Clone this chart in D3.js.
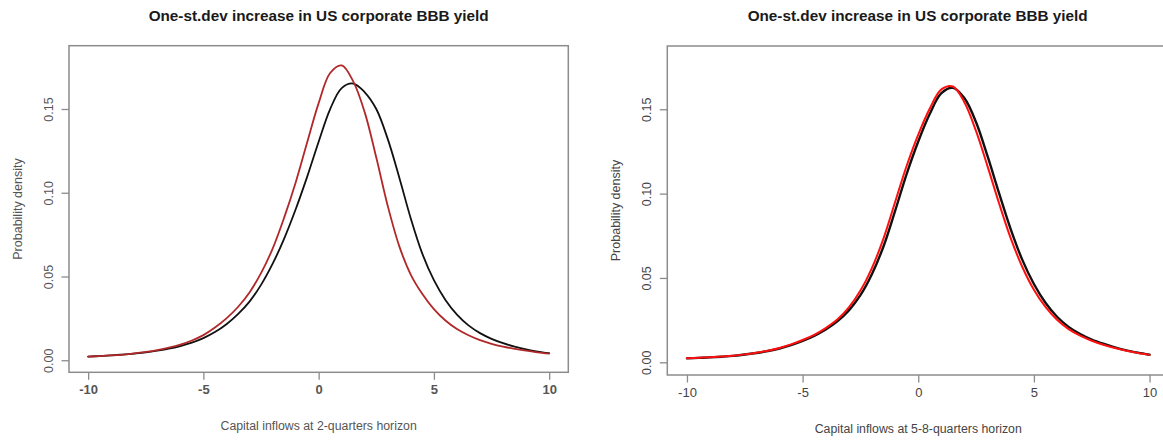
<!DOCTYPE html>
<html>
<head>
<meta charset="utf-8">
<script src="https://cdn.jsdelivr.net/npm/d3@7"></script>
<style>
  body { margin: 0; background: #fff; }
  svg { display: block; }
  text { font-family: "Liberation Sans", Arial, sans-serif; }
</style>
</head>
<body>
<svg id="chart" width="1163" height="440"></svg>
<script>
// Evaluation grid for the estimated densities (capital inflows)
const gridX = [-10, -9.5, -9, -8.5, -8, -7.5, -7, -6.5, -6, -5.5, -5, -4.5, -4, -3.5, -3, -2.5, -2, -1.5, -1, -0.5,
               0, 0.5, 1, 1.5, 2, 2.5, 3, 3.5, 4, 4.5, 5, 5.5, 6, 6.5, 7, 7.5, 8, 8.5, 9, 9.5, 10];

// 2-quarters horizon: baseline density (black) and after the shock (red)
const shortBase = [0.0022, 0.0025, 0.0029, 0.0034, 0.0040, 0.0047, 0.0057, 0.0069, 0.0085, 0.0105, 0.0132, 0.0168, 0.0215, 0.0275, 0.0350, 0.0450, 0.0575, 0.0725, 0.0900, 0.1095,
                   0.1305, 0.1500, 0.1625, 0.1652, 0.1600, 0.1500, 0.1320, 0.1090, 0.0845, 0.0635, 0.0478, 0.0360, 0.0272, 0.0208, 0.0162, 0.0128, 0.0102, 0.0081, 0.0065, 0.0052, 0.0042];
const shortShock = [0.0022, 0.0025, 0.0029, 0.0034, 0.0041, 0.0050, 0.0061, 0.0075, 0.0093, 0.0118, 0.0150, 0.0195, 0.0250, 0.0318, 0.0405, 0.0520, 0.0665, 0.0850, 0.1060, 0.1300,
                    0.1535, 0.1715, 0.1760, 0.1665, 0.1480, 0.1210, 0.0920, 0.0680, 0.0510, 0.0395, 0.0305, 0.0237, 0.0186, 0.0149, 0.0120, 0.0098, 0.0081, 0.0068, 0.0057, 0.0047, 0.0039];

// 5-8-quarters horizon: baseline density (black) and after the shock (red)
const longBase = [0.0023, 0.0026, 0.0029, 0.0033, 0.0038, 0.0046, 0.0055, 0.0067, 0.0082, 0.0102, 0.0127, 0.0157, 0.0195, 0.0243, 0.0308, 0.0398, 0.0524, 0.0688, 0.0898, 0.1117,
                  0.1309, 0.1473, 0.1595, 0.1627, 0.1565, 0.1423, 0.1220, 0.1000, 0.0788, 0.0607, 0.0464, 0.0353, 0.0270, 0.0210, 0.0168, 0.0135, 0.0110, 0.0089, 0.0071, 0.0057, 0.0045];
const longShock = [0.0024, 0.0027, 0.0030, 0.0034, 0.0039, 0.0047, 0.0057, 0.0069, 0.0085, 0.0106, 0.0132, 0.0163, 0.0203, 0.0253, 0.0325, 0.0425, 0.0560, 0.0735, 0.0950, 0.1165,
                   0.1350, 0.1505, 0.1618, 0.1635, 0.1540, 0.1370, 0.1160, 0.0940, 0.0735, 0.0565, 0.0430, 0.0328, 0.0252, 0.0197, 0.0158, 0.0128, 0.0104, 0.0085, 0.0069, 0.0055, 0.0044];

const xTicks = [-10, -5, 0, 5, 10];
const xTickLabels = ["-10", "-5", "0", "5", "10"];
const yTicks = [0, 0.05, 0.10, 0.15];
const yTickLabels = ["0.00", "0.05", "0.10", "0.15"];

const chartTitle = "One-st.dev increase in US corporate BBB yield";
const xTitles = ["Capital inflows at 2-quarters horizon", "Capital inflows at 5-8-quarters horizon"];
const yTitle = "Probability density";

const panels = [
  {
    box: { l: 69, t: 45.7, r: 568.3, b: 372.3 },
    xDomain: [-10.83, 10.83],
    yDomain: [-0.0072, 0.1878],
    series: [
      { values: shortBase, color: "#111111", width: 1.8 },
      { values: shortShock, color: "#b0282a", width: 1.8 }
    ],
    xTitle: xTitles[0],
    tickWeight: "bold",
    textColor: "#555"
  },
  {
    box: { l: 667.3, t: 46, r: 1169.2, b: 375 },
    xDomain: [-10.85, 10.85],
    yDomain: [-0.00753, 0.1875],
    series: [
      { values: longBase, color: "#111111", width: 2.4 },
      { values: longShock, color: "#ff1010", width: 2.0 }
    ],
    xTitle: xTitles[1],
    tickWeight: "normal",
    textColor: "#444"
  }
];

const svg = d3.select("#chart");
svg.append("rect").attr("width", 1163).attr("height", 440).attr("fill", "#fff");

panels.forEach(p => {
  const b = p.box;
  const x = d3.scaleLinear().domain(p.xDomain).range([b.l, b.r]);
  const y = d3.scaleLinear().domain(p.yDomain).range([b.b, b.t]);
  const g = svg.append("g");

  // plot frame
  g.append("rect")
    .attr("x", b.l).attr("y", b.t)
    .attr("width", b.r - b.l).attr("height", b.b - b.t)
    .attr("fill", "none").attr("stroke", "#8c8c8c").attr("stroke-width", 1.5);

  // bottom axis: ticks hang below the frame
  const xAxis = d3.axisBottom(x).tickValues(xTicks).tickSize(7.5).tickSizeOuter(0)
    .tickFormat((d, i) => xTickLabels[i]);
  const xa = g.append("g").attr("transform", `translate(0,${b.b})`).call(xAxis);
  xa.select(".domain").remove();
  xa.selectAll(".tick line").attr("stroke", "#8c8c8c").attr("stroke-width", 1.3);
  xa.selectAll(".tick text")
    .attr("y", 22).attr("dy", null)
    .attr("fill", p.textColor)
    .attr("font-size", 13)
    .attr("font-weight", p.tickWeight)
    .attr("font-family", '"Liberation Sans", Arial, sans-serif');
  xa.attr("font-size", null).attr("font-family", null);

  // left axis: labels rotated along the axis
  const yAxis = d3.axisLeft(y).tickValues(yTicks).tickSize(7.5).tickSizeOuter(0)
    .tickFormat((d, i) => yTickLabels[i]);
  const ya = g.append("g").attr("transform", `translate(${b.l},0)`).call(yAxis);
  ya.select(".domain").remove();
  ya.selectAll(".tick line").attr("stroke", "#8c8c8c").attr("stroke-width", 1.3);
  ya.selectAll(".tick text")
    .attr("x", null).attr("dy", null)
    .attr("text-anchor", "middle")
    .attr("transform", "translate(-16.5,0) rotate(-90)")
    .attr("fill", p.textColor)
    .attr("font-size", 12.5)
    .attr("font-family", '"Liberation Sans", Arial, sans-serif');
  ya.attr("font-size", null).attr("font-family", null);

  // density curves
  const line = d3.line()
    .x((d, i) => x(gridX[i]))
    .y(d => y(d))
    .curve(d3.curveCatmullRom.alpha(0.5));
  p.series.forEach(s => {
    g.append("path")
      .datum(s.values)
      .attr("d", line)
      .attr("fill", "none")
      .attr("stroke", s.color)
      .attr("stroke-width", s.width)
      .attr("stroke-linejoin", "round")
      .attr("stroke-linecap", "round");
  });

  // titles
  g.append("text")
    .attr("x", (b.l + Math.min(b.r, 1168)) / 2).attr("y", 21)
    .attr("text-anchor", "middle")
    .attr("font-size", 15.3).attr("font-weight", "bold").attr("fill", "#1a1a1a")
    .text(chartTitle);

  g.append("text")
    .attr("x", x(0)).attr("y", b.b + 57.5)
    .attr("text-anchor", "middle")
    .attr("font-size", 12.3).attr("fill", p.textColor)
    .text(p.xTitle);

  g.append("text")
    .attr("transform", `translate(${b.l - 47},${(b.t + b.b) / 2}) rotate(-90)`)
    .attr("text-anchor", "middle")
    .attr("font-size", 12.5).attr("fill", p.textColor)
    .text(yTitle);
});
</script>
</body>
</html>
